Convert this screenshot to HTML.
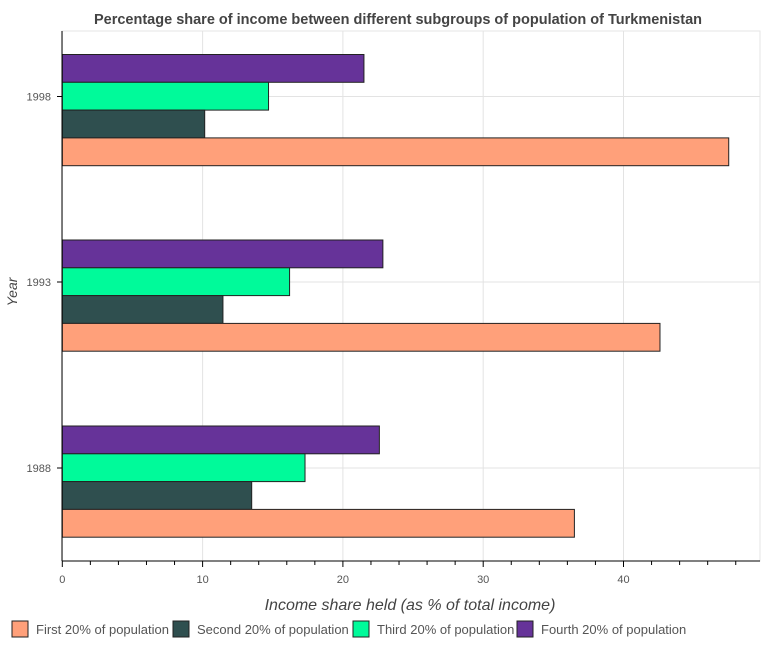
<!DOCTYPE html>
<html><head><meta charset="utf-8"><style>
body{margin:0;background:#fff;font-family:"Liberation Sans",Arial,sans-serif}
svg text{font-family:"Liberation Sans",Arial,sans-serif}
</style></head><body>
<svg id="c" width="764" height="650" xmlns="http://www.w3.org/2000/svg">
<text x="398" y="24" text-anchor="middle" font-size="14.5" font-weight="bold" fill="#444">Percentage share of income between different subgroups of population of Turkmenistan</text>
<rect x="62" y="31" width="698" height="530" fill="none" stroke="#e6e6e6"/>
<g id="grid"></g><g id="bars"></g><g id="axes"></g>
<text x="410" y="610" text-anchor="middle" font-size="16" font-style="italic" fill="#444">Income share held (as % of total income)</text>
<text transform="translate(17,292) rotate(-90)" text-anchor="middle" font-size="14" font-style="italic" fill="#444">Year</text>
<g id="legend"></g>
</svg>
<script>
const years=["1988","1993","1998"];
const seriesNames=["First 20% of population","Second 20% of population","Third 20% of population","Fourth 20% of population"];
const first=[36.5,42.6,47.5];
const second=[13.5,11.45,10.15];
const third=[17.3,16.2,14.7];
const fourth=[22.6,22.85,21.5];
const xTicks=[0,10,20,30,40];
const colors=["#ffa07a","#2f4f4f","#00fa9a","#663399"];
const NS="http://www.w3.org/2000/svg";
const x0=62.3,k=14.03,axisY=561;
const X=v=>x0+v*k;
const centers=[468,282,96.5];
const Yc=i=>centers[i];
function el(t,a,p){const e=document.createElementNS(NS,t);for(const n in a)e.setAttribute(n,a[n]);p.appendChild(e);return e;}
const grid=document.getElementById('grid'),bars=document.getElementById('bars'),axes=document.getElementById('axes'),leg=document.getElementById('legend');
xTicks.forEach(t=>{const l=el('line',{x1:X(t),x2:X(t),y1:31,y2:axisY,stroke:'#e3e3e3'},grid);

});
years.forEach((y,i)=>{const l=el('line',{x1:62,x2:760,y1:Yc(i),y2:Yc(i),stroke:'#e3e3e3'},grid);

});
const data=[first,second,third,fourth];
years.forEach((y,i)=>{
  const top=Yc(i)-42, h=27.8;
  const order=[3,2,1,0];
  order.forEach((s,j)=>{
    const r=el('rect',{x:X(0),y:top+j*h,width:X(data[s][i])-X(0),height:h,fill:colors[s],stroke:'#222','stroke-width':1},bars);
    
    
  });
});
el('line',{x1:62,x2:760,y1:axisY,y2:axisY,stroke:'#000'},axes);
el('line',{x1:62,x2:62,y1:31,y2:axisY,stroke:'#000'},axes);
for(let v=0;v<=48;v+=2){el('line',{x1:X(v),x2:X(v),y1:axisY,y2:axisY+(v%10==0?6:4),stroke:'#000'},axes);}
xTicks.forEach(t=>{const tx=el('text',{x:X(t),y:axisY+22,'text-anchor':'middle','font-size':11,fill:'#555'},axes);tx.textContent=t;

});
years.forEach((y,i)=>{el('line',{x1:57,x2:62,y1:Yc(i),y2:Yc(i),stroke:'#000'},axes);
const tx=el('text',{x:51,y:Yc(i)+4,'text-anchor':'end','font-size':11,fill:'#555'},axes);tx.textContent=y;

});
const lx=[12,173,353,517];
seriesNames.forEach((n,s)=>{
  const r=el('rect',{x:lx[s],y:621,width:16,height:16,fill:colors[s],stroke:'#222'},leg);
  
  
  const t=el('text',{x:lx[s]+24,y:634,'font-size':13,fill:'#555'},leg);t.textContent=n;
  
  
});
</script>
</body></html>
